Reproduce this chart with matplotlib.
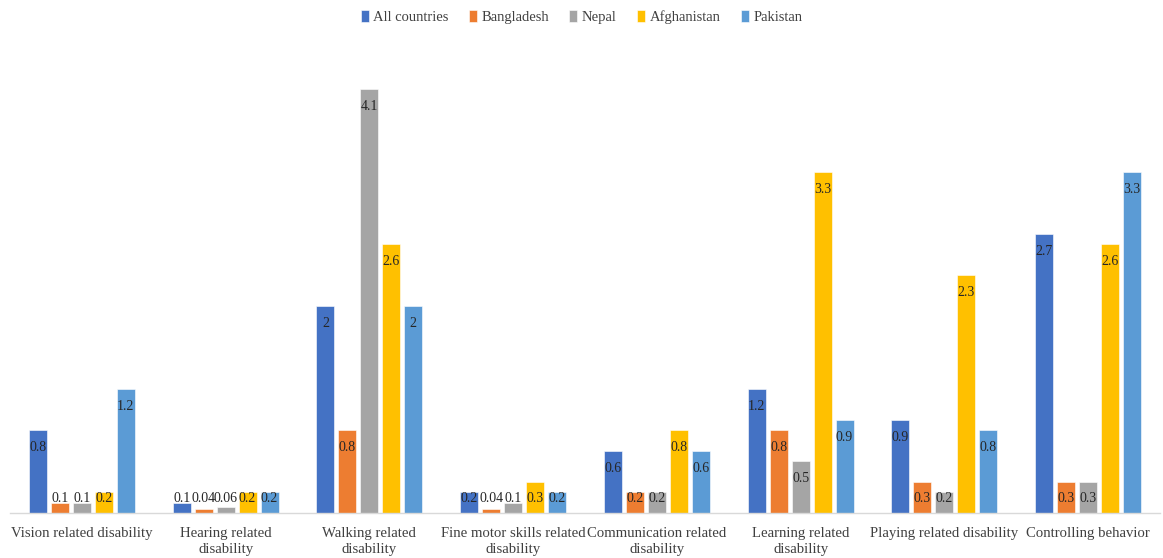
import matplotlib
matplotlib.use("Agg")
import matplotlib.pyplot as plt
import numpy as np

plt.rcParams['font.family'] = ['Liberation Serif', 'DejaVu Serif']

categories = ["Vision related disability", "Hearing related\ndisability", "Walking related\ndisability",
              "Fine motor skills related\ndisability", "Communication related\ndisability",
              "Learning related\ndisability", "Playing related disability", "Controlling behavior"]
series_names = ["All countries", "Bangladesh", "Nepal", "Afghanistan", "Pakistan"]
all_countries = [0.8, 0.1, 2, 0.2, 0.6, 1.2, 0.9, 2.7]
bangladesh = [0.1, 0.04, 0.8, 0.04, 0.2, 0.8, 0.3, 0.3]
nepal = [0.1, 0.06, 4.1, 0.1, 0.2, 0.5, 0.2, 0.3]
afghanistan = [0.2, 0.2, 2.6, 0.3, 0.8, 3.3, 2.3, 2.6]
pakistan = [1.2, 0.2, 2, 0.2, 0.6, 0.9, 0.8, 3.3]
series = [all_countries, bangladesh, nepal, afghanistan, pakistan]
colors = ["#4472C4", "#ED7D31", "#A5A5A5", "#FFC000", "#5B9BD5"]

fig = plt.figure(figsize=(11.63, 5.58), dpi=100)
ax = fig.add_axes([10/1163, 1 - 513/558, 1150/1163, 465/558])

x = np.arange(len(categories))
pitch = 0.153
width = 0.125
for i, (vals, name, c) in enumerate(zip(series, series_names, colors)):
    pos = x + (i - 2) * pitch
    ax.bar(pos, vals, width=width, color=c, label=name, edgecolor='white', linewidth=0.4)
    for px, v in zip(pos, vals):
        ly = max(v - 0.17, 0.145)
        ax.text(px, ly, f"{v:g}", ha='center', va='center', fontsize=10, color='#262626')

ax.set_xlim(-0.5, len(categories) - 0.5)
ax.set_ylim(0, 4.5)
ax.set_yticks([])
ax.set_xticks(x)
ax.set_xticklabels(categories, fontsize=10.6, color='#404040', linespacing=1.3)
ax.tick_params(axis='x', length=0, pad=10)
for s in ['top', 'right', 'left']:
    ax.spines[s].set_visible(False)
ax.spines['bottom'].set_color('#D9D9D9')
ax.spines['bottom'].set_linewidth(1)

fig.legend(loc='upper center', bbox_to_anchor=(0.5, 1.005), ncol=5, frameon=False,
           fontsize=10.5, handlelength=0.55, handleheight=0.8, handletextpad=0.3,
           columnspacing=1.4, labelcolor='#404040')

fig.savefig("out.png", dpi=100)
